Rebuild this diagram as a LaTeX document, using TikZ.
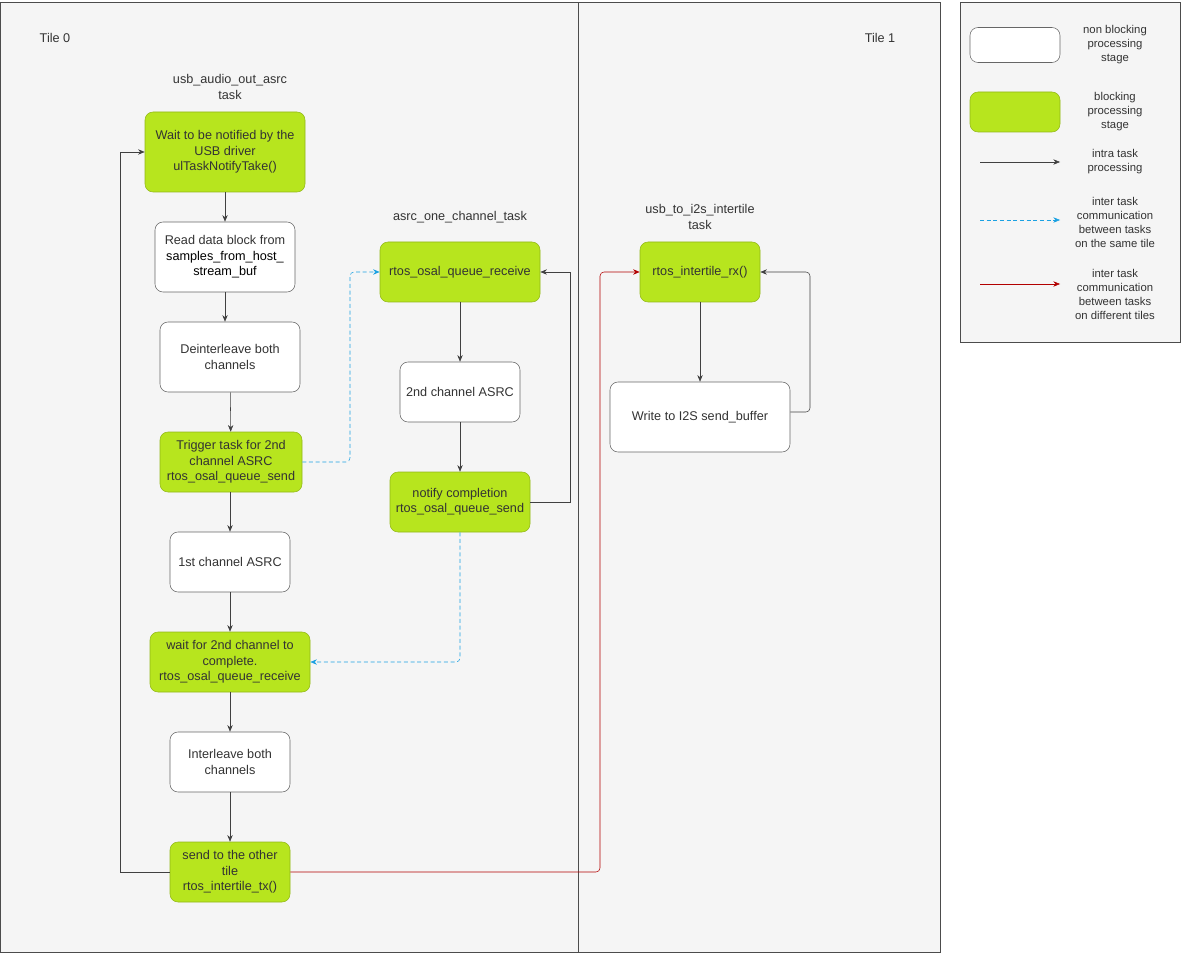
\documentclass[tikz,border=0pt]{standalone}
\usepackage{fontspec}
\setmainfont{Liberation Sans}
\usetikzlibrary{arrows.meta}
\definecolor{stagegreen}{HTML}{B7E51E}
\definecolor{panelgray}{HTML}{F5F5F5}
\definecolor{txtgray}{HTML}{333333}
\definecolor{commblue}{HTML}{1BA1E2}
\definecolor{tilered}{HTML}{B20000}
\tikzset{
  stage/.style={draw=black!60,rounded corners=6pt,align=center,text=txtgray,
    font=\fontsize{9.5}{11.5}\selectfont,inner sep=0pt},
  nonblock/.style={stage,fill=white},
  block/.style={stage,fill=stagegreen,draw=stagegreen!80!black},
  lbl/.style={align=center,text=txtgray,font=\fontsize{9.5}{11.5}\selectfont},
  legtxt/.style={align=center,text=txtgray,font=\fontsize{8.5}{10.5}\selectfont},
  intra/.style={draw=black!75,-{Stealth[length=5pt,width=4pt]}},
  inter/.style={draw=commblue,densely dashed,-{Stealth[length=5pt,width=4pt]}},
  tiles/.style={draw=tilered,-{Stealth[length=5pt,width=4pt]}}
}
\begin{document}
\begin{tikzpicture}[x=0.75pt,y=-0.75pt]
  \useasboundingbox (0,0) rectangle (1181,955);
  % Tiles
  \draw[fill=panelgray,draw=black!70] (0,2) rectangle (580,952);
  \draw[fill=panelgray,draw=black!70] (578,2) rectangle (940,952);
  \node[lbl] (tile0) at (55,38) {Tile 0};
  \node[lbl] (tile1) at (880,38) {Tile 1};
  % Legend
  \draw[fill=panelgray,draw=black!70] (960,2) rectangle (1180,342);
  \node[nonblock,minimum width=67.5pt,minimum height=26.25pt] (legwhite) at (1015,45) {};
  \node[block,minimum width=67.5pt,minimum height=30pt] (leggreen) at (1015,112) {};
  \node[legtxt] (legwhitetxt) at (1115,45) {non blocking\\processing\\stage};
  \node[legtxt] (leggreentxt) at (1115,112) {blocking\\processing\\stage};
  \coordinate (li0) at (980,162); \coordinate (li1) at (1060,162);
  \coordinate (lb0) at (980,220); \coordinate (lb1) at (1060,220);
  \coordinate (lr0) at (980,284); \coordinate (lr1) at (1060,284);
  \draw[intra] (li0) -- (li1);
  \draw[inter] (lb0) -- (lb1);
  \draw[tiles] (lr0) -- (lr1);
  \node[legtxt] (legintra) at (1115,162) {intra task\\processing};
  \node[legtxt] (legblue) at (1115,222) {inter task\\communication\\between tasks\\on the same tile};
  \node[legtxt] (legred) at (1115,294) {inter task\\communication\\between tasks\\on different tiles};
  % usb_audio_out_asrc task
  \node[lbl] (usbtask) at (230,87) {usb\_audio\_out\_asrc\\task};
  \node[block,minimum width=120pt,minimum height=60pt] (notify) at (225,152) {Wait to be notified by the\\USB driver\\ulTaskNotifyTake()};
  \node[nonblock,minimum width=105pt,minimum height=52.5pt] (readblk) at (225,257) {Read data block from\\{\color{black}samples\_from\_host\_}\\{\color{black}stream\_buf}};
  \node[nonblock,minimum width=105pt,minimum height=52.5pt] (deint) at (230,357) {Deinterleave both\\channels};
  \node[block,minimum width=106.5pt,minimum height=45pt] (trigger) at (231,462) {Trigger task for 2nd\\channel ASRC\\rtos\_osal\_queue\_send};
  \node[nonblock,minimum width=90pt,minimum height=45pt] (first) at (230,562) {1st channel ASRC};
  \node[block,minimum width=120pt,minimum height=45pt] (waitsec) at (230,662) {wait for 2nd channel to\\complete.\\rtos\_osal\_queue\_receive};
  \node[nonblock,minimum width=90pt,minimum height=45pt] (inter) at (230,762) {Interleave both\\channels};
  \node[block,minimum width=90pt,minimum height=45pt] (sendtile) at (230,872) {send to the other\\tile\\rtos\_intertile\_tx()};
  \draw[intra] (notify) -- (notify|-readblk.north);
  \draw[intra] (readblk.south) -- (deint.north-|readblk.south);
  \draw[intra] (deint) -- (trigger);
  \draw[intra] (trigger.south-|first) -- (first);
  \draw[intra] (first) -- (waitsec);
  \draw[intra] (waitsec) -- (inter);
  \draw[intra] (inter) -- (sendtile);
  \coordinate (loopA) at (120,872); \coordinate (loopB) at (120,152);
  \draw[intra] (sendtile.west) -- (loopA) -- (loopB) -- (notify.west);
  % asrc_one_channel_task
  \node[lbl] (asrctask) at (460,217) {asrc\_one\_channel\_task};
  \node[block,minimum width=120pt,minimum height=45pt] (qrecv) at (460,272) {rtos\_osal\_queue\_receive};
  \node[nonblock,minimum width=90pt,minimum height=45pt] (second) at (460,392) {2nd channel ASRC};
  \node[block,minimum width=105pt,minimum height=45pt] (done) at (460,502) {notify completion\\rtos\_osal\_queue\_send};
  \draw[intra] (qrecv) -- (second);
  \draw[intra] (second) -- (done);
  \coordinate (loopC) at (570,502); \coordinate (loopD) at (570,272);
  \draw[intra] (done.east) -- (loopC) -- (loopD) -- (qrecv.east);
  \coordinate (blueA) at (350,462); \coordinate (blueB) at (350,272);
  \draw[inter,rounded corners=3pt] (trigger.east) -- (blueA) -- (blueB) -- (qrecv.west);
  \coordinate (blueC) at (460,662);
  \draw[inter,rounded corners=3pt] (done.south) -- (blueC) -- (waitsec.east);
  % usb_to_i2s_intertile task
  \node[lbl] (i2stask) at (700,217) {usb\_to\_i2s\_intertile\\task};
  \node[block,minimum width=90pt,minimum height=45pt] (rxtile) at (700,272) {rtos\_intertile\_rx()};
  \node[nonblock,minimum width=135pt,minimum height=52.5pt] (wri2s) at (700,417) {Write to I2S send\_buffer};
  \draw[intra] (rxtile) -- (wri2s);
  \coordinate (loopE) at (810,412); \coordinate (loopF) at (810,272);
  \draw[intra,rounded corners=3pt] (wri2s.east|-loopE) -- (loopE) -- (loopF) -- (rxtile.east);
  \coordinate (redA) at (600,872); \coordinate (redB) at (600,272);
  \draw[tiles,rounded corners=3pt] (sendtile.east) -- (redA) -- (redB) -- (rxtile.west);
\end{tikzpicture}
\end{document}
